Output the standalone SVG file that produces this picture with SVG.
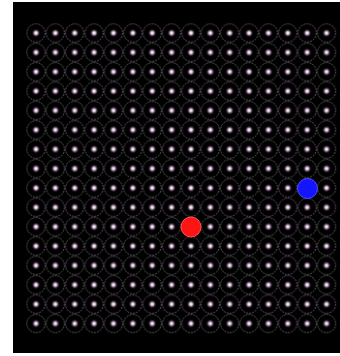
<svg xmlns="http://www.w3.org/2000/svg" width="340" height="356" viewBox="0 0 340 356">
  <defs>
    <radialGradient id="glow">
      <stop offset="0" stop-color="#ffffff"/>
      <stop offset="0.3" stop-color="#e8d0e8"/>
      <stop offset="0.65" stop-color="#7a5a7a" stop-opacity="0.55"/>
      <stop offset="1" stop-color="#000000" stop-opacity="0"/>
    </radialGradient>
    <pattern id="cell" patternUnits="userSpaceOnUse" x="26.315" y="23.315" width="19.37" height="19.37">
      <circle cx="9.685" cy="9.685" r="9.1" fill="none" stroke="#675c67" stroke-width="0.9" stroke-dasharray="2 1"/>
      <circle cx="9.685" cy="9.685" r="4.5" fill="url(#glow)"/>
    </pattern>
    <style>
      .agent { stroke-width: 1; }
    </style>
  </defs>
  <rect width="340" height="356" fill="#ffffff"/>
  <rect x="13" y="2" width="327" height="351" fill="#000000"/>
  <rect id="grid" x="26.315" y="23.315" width="309.92" height="309.92" fill="url(#cell)"/>
  <g id="red">
    <circle class="agent" cx="191" cy="227" r="10" fill="#ff1414" stroke="#ff5050"/>
  </g>
  <g id="blue">
    <circle class="agent" cx="307.5" cy="188.5" r="10" fill="#1414ff" stroke="#5050ff"/>
  </g>
</svg>
